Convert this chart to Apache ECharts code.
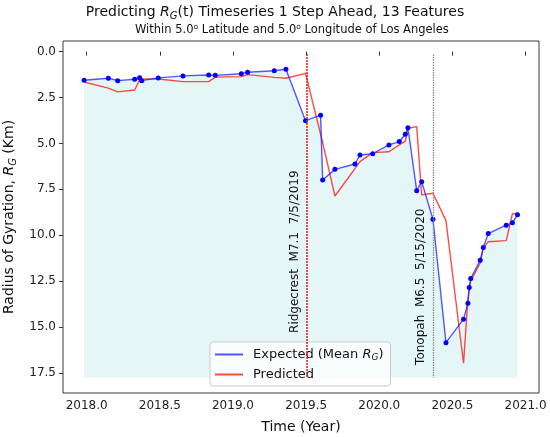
<!DOCTYPE html>
<html>
<head>
<meta charset="utf-8">
<script src="https://cdn.jsdelivr.net/npm/echarts@6/dist/echarts.min.js"></script>
<style>html,body{margin:0;padding:0;background:#fff;}#c{width:550px;height:437px;}</style>
</head>
<body>
<div id="c"></div>
<script>
// Decimal-year timestamps of each sample
const years = [2017.982, 2018.148, 2018.212, 2018.328, 2018.362, 2018.376, 2018.489, 2018.658, 2018.834, 2018.879,
  2019.057, 2019.100, 2019.282, 2019.362, 2019.496, 2019.599, 2019.613, 2019.697, 2019.834, 2019.868,
  2019.955, 2020.066, 2020.137, 2020.178, 2020.196, 2020.256, 2020.290, 2020.367, 2020.456, 2020.576,
  2020.606, 2020.615, 2020.625, 2020.690, 2020.711, 2020.745, 2020.868, 2020.910, 2020.945];
// Expected (mean R_G)
const expected = [1.56, 1.45, 1.58, 1.50, 1.42, 1.58, 1.43, 1.32, 1.27, 1.29,
  1.20, 1.12, 1.04, 0.96, 3.76, 3.46, 6.99, 6.41, 6.12, 5.63,
  5.56, 5.08, 4.90, 4.50, 4.14, 7.57, 7.08, 9.13, 15.85, 14.57,
  13.70, 12.85, 12.36, 11.36, 10.66, 9.91, 9.45, 9.32, 8.88];
// Predicted
const predicted = [1.65, 1.99, 2.19, 2.09, 1.54, 1.49, 1.49, 1.63, 1.63, 1.39,
  1.36, 1.25, 1.40, 1.45, 1.18, 4.50, 4.95, 7.86, 6.37, 5.99,
  5.50, 5.45, 5.08, 4.87, 4.17, 4.08, 7.80, 7.71, 9.20, 16.97,
  13.50, 12.90, 12.50, 11.50, 10.71, 10.35, 10.29, 8.84, 8.80];
const xTicks = [2018.0, 2018.5, 2019.0, 2019.5, 2020.0, 2020.5, 2021.0];
const yTicks = [0.0, 2.5, 5.0, 7.5, 10.0, 12.5, 15.0, 17.5];
const eventNames = ['Ridgecrest  M7.1  7/5/2019', 'Tonopah  M6.5  5/15/2020'];
const eventYears = [2019.507, 2020.369];
const eventLineTop = [0.13, 0.16];
const eventLineBottom = [17.75, 17.75];
const eventLabelStart = [15.32, 17.06];
const fillFloor = 17.75;

const FONT = 'DejaVu Sans';
const expData = years.map((t, i) => [t, expected[i]]);
const predData = years.map((t, i) => [t, predicted[i]]);

const chart = echarts.init(document.getElementById('c'), null, {renderer: 'canvas'});
const option = {
  animation: false,
  backgroundColor: '#fff',
  title: [{
    text: 'Predicting {i|R}{s|G}(t) Timeseries 1 Step Ahead, 13 Features',
    left: 'center', top: -2,
    textStyle: {fontFamily: FONT, fontSize: 14, fontWeight: 'normal', color: '#111', lineHeight: 18,
      rich: {i: {fontStyle: 'italic', fontFamily: FONT, fontSize: 14, lineHeight: 18, color: '#111'},
             s: {fontStyle: 'italic', fontFamily: FONT, fontSize: 10, lineHeight: 13, verticalAlign: 'bottom', color: '#111'}}}
  }, {
    text: 'Within 5.0{p|o} Latitude and 5.0{p|o} Longitude of Los Angeles',
    left: 130, top: 18,
    textStyle: {fontFamily: FONT, fontSize: 11.5, fontWeight: 'normal', color: '#111', lineHeight: 15,
      rich: {p: {fontFamily: FONT, fontSize: 7.5, lineHeight: 15, verticalAlign: 'top', color: '#111'}}}
  }],
  grid: {left: 63, right: 11, top: 41, bottom: 44, show: true, borderColor: '#3a3a3a', borderWidth: 1,
    containLabel: false, outerBoundsMode: 'none'},
  legend: {
    data: [{name: 'Expected', itemStyle: {color: 'rgba(40,40,255,0.8)'}},
           {name: 'Predicted', itemStyle: {color: 'rgba(255,30,20,0.8)'}}],
    orient: 'vertical', left: 210, top: 342,
    padding: [5, 7, 4, 5], itemWidth: 28, itemHeight: 2, itemGap: 5, icon: 'rect',
    backgroundColor: 'rgba(255,255,255,0.8)', borderColor: '#cccccc', borderWidth: 1, borderRadius: 3,
    formatter: n => n === 'Expected' ? 'Expected (Mean {i|R}{s|G})' : n,
    textStyle: {fontFamily: FONT, fontSize: 13, color: '#111', lineHeight: 15, padding: [0, 0, 0, 5],
      rich: {i: {fontStyle: 'italic', fontFamily: FONT, fontSize: 13, lineHeight: 15, color: '#111'},
             s: {fontStyle: 'italic', fontFamily: FONT, fontSize: 9, lineHeight: 11, verticalAlign: 'bottom', color: '#111'}}}
  },
  xAxis: {
    type: 'value', min: 2017.838, max: 2021.092,
    name: 'Time (Year)', nameLocation: 'middle', nameGap: 27,
    nameTextStyle: {fontFamily: FONT, fontSize: 14, color: '#111'},
    axisLine: {show: false}, splitLine: {show: false},
    axisTick: {show: true, length: 4, customValues: xTicks, lineStyle: {color: '#333'}},
    axisLabel: {customValues: xTicks, formatter: v => v.toFixed(1), fontFamily: FONT, fontSize: 12, color: '#222', margin: 7}
  },
  yAxis: {
    type: 'value', inverse: true, min: -0.58, max: 18.59,
    name: 'Radius of Gyration, {i|R}{s|G} (Km)', nameLocation: 'middle', nameGap: 42, nameRotate: 90,
    nameTextStyle: {fontFamily: FONT, fontSize: 14, color: '#111', lineHeight: 18,
      rich: {i: {fontStyle: 'italic', fontFamily: FONT, fontSize: 14, lineHeight: 18, color: '#111'},
             s: {fontStyle: 'italic', fontFamily: FONT, fontSize: 10, lineHeight: 13, verticalAlign: 'bottom', color: '#111'}}},
    axisLine: {show: false}, splitLine: {show: false},
    axisTick: {show: true, length: 4, customValues: yTicks, lineStyle: {color: '#333'}},
    axisLabel: {customValues: yTicks, formatter: v => v.toFixed(1), fontFamily: FONT, fontSize: 12, color: '#222', margin: 7}
  },
  series: [{
    name: 'fill', type: 'line', data: expData, symbol: 'none', silent: true, z: 1,
    lineStyle: {width: 0, opacity: 0},
    areaStyle: {origin: fillFloor, color: '#e4f6f6', opacity: 1},
    markLine: {
      silent: true, symbol: ['none', 'none'], label: {show: false},
      data: [
        [{coord: [eventYears[0], eventLineTop[0]], lineStyle: {color: 'rgba(220,40,40,0.8)', width: 2, type: [2, 1]}},
         {coord: [eventYears[0], eventLineBottom[0]]}],
        [{coord: [eventYears[1], eventLineTop[1]], lineStyle: {color: '#8a8a8a', width: 1.3, type: [1.5, 1]}},
         {coord: [eventYears[1], eventLineBottom[1]]}]
      ]
    }
  }, {
    name: 'Expected', type: 'line', data: expData, z: 3,
    symbol: 'circle', symbolSize: 5, showSymbol: true,
    itemStyle: {color: '#0000ff'},
    lineStyle: {color: 'rgba(30,30,255,0.75)', width: 1.4}
  }, {
    name: 'Predicted', type: 'line', data: predData, z: 2,
    symbol: 'none',
    itemStyle: {color: 'rgba(255,30,20,0.8)'},
    lineStyle: {color: 'rgba(255,30,20,0.8)', width: 1.4}
  }]
};
chart.setOption(option);

const graphics = eventNames.map((txt, i) => {
  const p = chart.convertToPixel({xAxisIndex: 0, yAxisIndex: 0}, [eventYears[i], eventLabelStart[i]]);
  return {
    type: 'text', x: p[0] - 12, y: p[1], rotation: Math.PI / 2, z: 10,
    style: {text: txt, fontFamily: FONT, fontSize: 12, fill: '#111', align: 'left', verticalAlign: 'middle'}
  };
});
chart.setOption({graphic: graphics});
</script>
</body>
</html>
